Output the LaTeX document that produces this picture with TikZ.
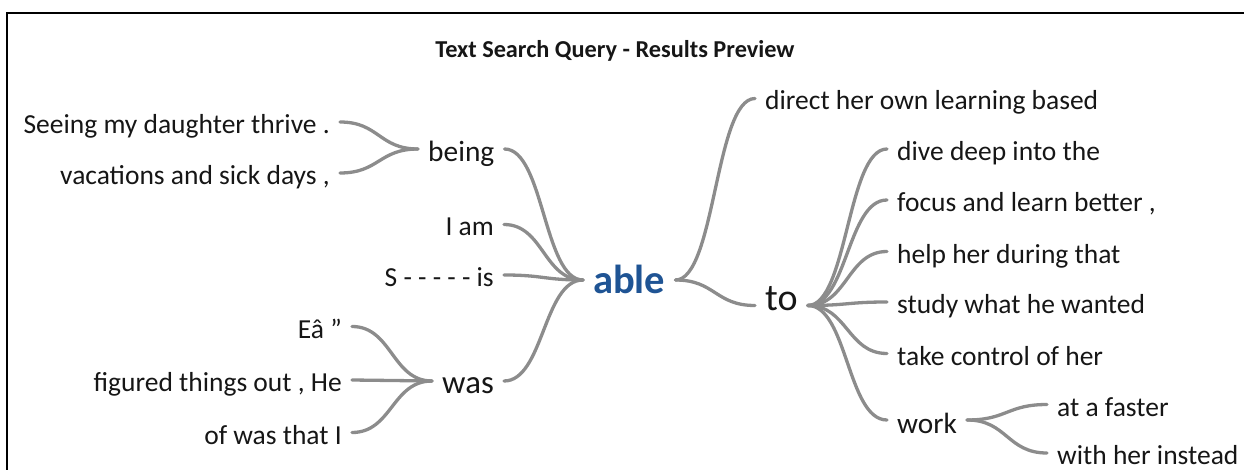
\documentclass[tikz,border=0pt]{standalone}
\usepackage{fontspec}
\setmainfont{Carlito}
\usetikzlibrary{calc}
\definecolor{linkgray}{RGB}{140,140,140}
\definecolor{ableblue}{RGB}{31,84,148}
\definecolor{ink}{RGB}{22,22,22}
\begin{document}
\begin{tikzpicture}[x=1pt,y=-1pt,
  % the box height sets where the east/west anchors sit above the baseline
  lift/.style={text height=#1, text depth=0pt},
  word/.style={inner xsep=10pt, inner ysep=0pt, text=ink,
    font=\fontsize{27.5}{30}\selectfont, lift=23pt},
  link/.style={draw=linkgray, line width=3.3pt, line cap=round,
    to path={let \p1=(\tikztostart), \p2=(\tikztotarget) in
      .. controls ({(\x1+\x2)/2},\y1) and ({(\x1+\x2)/2},\y2) .. (\tikztotarget)}},
]
\useasboundingbox (0,0) rectangle (1244,470);
\clip (0,0) rectangle (1244,470);
% frame
\draw[line width=2.5pt, black] (7,480) -- (7,13) -- (1260,13);

% title
\node[anchor=base, inner sep=0pt, text=ink, font=\fontsize{24.3}{28}\selectfont\bfseries]
  (title) at (615,57.3) {Text Search Query - Results Preview};

% root
\node[word, anchor=west, lift=26.6pt, text=ableblue,
  font=\fontsize{40.5}{44}\selectfont\bfseries] (able) at (583,280) {able};

% left branch
\node[word, anchor=east] (seeing) at (340,122) {Seeing my daughter thrive .};
\node[word, anchor=east] (vacations) at (340,173) {vacations and sick days ,};
\node[word, anchor=west, lift=26pt, font=\fontsize{29.4}{32}\selectfont] (being) at (418,149) {being};
\node[word, anchor=east] (iam) at (504,224.5) {I am};
\node[word, anchor=east] (sis) at (504,275) {S - - - - - is};
\node[word, anchor=east] (ea) at (352,326.5) {Eâ ”};
\node[word, anchor=east] (figured) at (352,380) {figured things out , He};
\node[word, anchor=east] (ofwas) at (352,432.5) {of was that I};
\node[word, anchor=west, lift=25pt, font=\fontsize{32.8}{36}\selectfont] (was) at (432,381) {was};

% right branch
\node[word, anchor=west] (direct) at (755,98.5) {direct her own learning based};
\node[word, anchor=west, lift=9pt, font=\fontsize{38}{42}\selectfont] (to) at (755,305.5) {to};
\node[word, anchor=west] (dive) at (887,149) {dive deep into the};
\node[word, anchor=west] (focus) at (887,200) {focus and learn better ,};
\node[word, anchor=west] (help) at (887,251.5) {help her during that};
\node[word, anchor=west] (study) at (887,302) {study what he wanted};
\node[word, anchor=west] (take) at (887,353.5) {take control of her};
\node[word, anchor=west, lift=26.6pt, font=\fontsize{29.3}{32}\selectfont] (work) at (887,420) {work};
\node[word, anchor=west] (faster) at (1047,404.5) {at a faster};
\node[word, anchor=west] (instead) at (1047,453) {with her instead};

% connectors
\draw[link] (seeing.east) to (being.west);
\draw[link] (vacations.east) to (being.west);
\draw[link] (being.east) to (able.west);
\draw[link] (iam.east) to (able.west);
\draw[link] (sis.east) to (able.west);
\draw[link] (was.east) to (able.west);
\draw[link] (ea.east) to (was.west);
\draw[link] (figured.east) to (was.west);
\draw[link] (ofwas.east) to (was.west);
\draw[link] (able.east) to (direct.west);
\draw[link] (able.east) to (to.west);
\foreach \leaf in {dive,focus,help,study,take,work}
  \draw[link] (to.east) to (\leaf.west);
\draw[link] (work.east) to (faster.west);
\draw[link] (work.east) to (instead.west);
\end{tikzpicture}
\end{document}
